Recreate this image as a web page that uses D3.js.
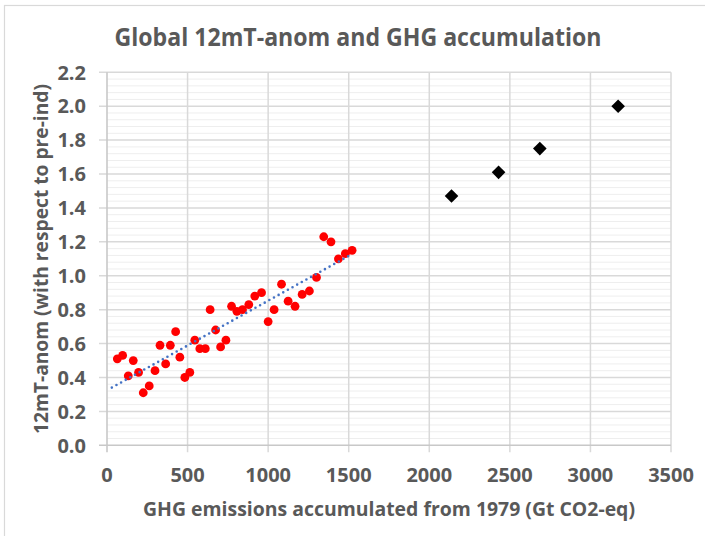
<!DOCTYPE html>
<html>
<head>
<meta charset="utf-8">
<script src="https://cdn.jsdelivr.net/npm/d3@7"></script>
<style>
  body { margin: 0; background: #fff; }
  text { font-family: "Open Sans", sans-serif; fill: #595959; }
</style>
</head>
<body>
<svg id="chart" width="705" height="536"></svg>
<script>
// observed years: accumulated GHG (Gt CO2-eq) vs 12-month T anomaly
const obsX = [64, 97, 163, 132, 196, 225, 262, 298, 329, 364, 393, 426, 452, 483, 514,
  545, 576, 610, 640, 674, 705, 738, 773, 806, 841, 880, 917, 959, 1000, 1037, 1083,
  1124, 1167, 1211, 1256, 1300, 1345, 1390, 1436, 1479, 1521];
const obsY = [0.51, 0.53, 0.50, 0.41, 0.43, 0.31, 0.35, 0.44, 0.59, 0.48, 0.59, 0.67, 0.52,
  0.40, 0.43, 0.62, 0.57, 0.57, 0.80, 0.68, 0.58, 0.62, 0.82, 0.79, 0.80, 0.83, 0.88,
  0.90, 0.73, 0.80, 0.95, 0.85, 0.82, 0.89, 0.91, 0.99, 1.23, 1.20, 1.10, 1.13, 1.15];

// projected points
const projX = [2138, 2430, 2686, 3172];
const projY = [1.47, 1.61, 1.75, 2.00];

const xTicks = [0, 500, 1000, 1500, 2000, 2500, 3000, 3500];
const yTicks = [0.0, 0.2, 0.4, 0.6, 0.8, 1.0, 1.2, 1.4, 1.6, 1.8, 2.0, 2.2];
const trendFrom = 30;

const titleText = "Global 12mT-anom and GHG accumulation";
const xTitle = "GHG emissions accumulated from 1979 (Gt CO2-eq)";
const yTitle = "12mT-anom (with respect to pre-ind)";

const plotL = 107, plotR = 671, plotT = 72.3, plotB = 445.3;
const x = d3.scaleLinear().domain([0, 3500]).range([plotL, plotR]);
const y = d3.scaleLinear().domain([0, 2.2]).range([plotB, plotT]);

const svg = d3.select('#chart');

// outer chart frame
svg.append('rect')
  .attr('x', 4.5).attr('y', 5.5).attr('width', 760).attr('height', 600)
  .attr('fill', '#fff').attr('stroke', '#d9d9d9').attr('stroke-width', 1.2);

// minor horizontal gridlines
const minor = d3.range(0, 111).map(i => i * 0.02).filter((v, i) => i % 2 === 0 && i % 10 !== 0);
svg.append('g').selectAll('line').data(minor).join('line')
  .attr('x1', plotL).attr('x2', plotR)
  .attr('y1', d => y(d)).attr('y2', d => y(d))
  .attr('stroke', '#eeeeee').attr('stroke-width', 1);

// major gridlines
svg.append('g').selectAll('line').data(yTicks.slice(1)).join('line')
  .attr('x1', plotL - 8).attr('x2', plotR)
  .attr('y1', d => y(d)).attr('y2', d => y(d))
  .attr('stroke', '#d9d9d9').attr('stroke-width', 1.5);

svg.append('g').selectAll('line').data(xTicks.slice(1)).join('line')
  .attr('x1', d => x(d)).attr('x2', d => x(d))
  .attr('y1', plotT).attr('y2', plotB + 7)
  .attr('stroke', '#d9d9d9').attr('stroke-width', 1.5);

// axis lines
svg.append('line')
  .attr('x1', plotL).attr('x2', plotL).attr('y1', plotT).attr('y2', plotB + 7)
  .attr('stroke', '#c8c8c8').attr('stroke-width', 1.6);
svg.append('line')
  .attr('x1', plotL - 8).attr('x2', plotR).attr('y1', plotB).attr('y2', plotB)
  .attr('stroke', '#c8c8c8').attr('stroke-width', 1.6);

// tick labels
svg.append('g').selectAll('text').data(yTicks).join('text')
  .attr('x', 86).attr('y', d => y(d)).attr('dy', '0.36em')
  .attr('text-anchor', 'end')
  .style('font-size', '20px').style('font-weight', 700)
  .text(d => d3.format('.1f')(d));

svg.append('g').selectAll('text').data(xTicks).join('text')
  .attr('x', d => x(d)).attr('y', 482)
  .attr('text-anchor', 'middle')
  .style('font-size', '20px').style('font-weight', 700)
  .text(d => d);

// observed points
const obs = obsX.map((v, i) => [v, obsY[i]]);
svg.append('g').selectAll('circle').data(obs).join('circle')
  .attr('cx', d => x(d[0])).attr('cy', d => y(d[1])).attr('r', 4.4)
  .attr('fill', '#ff0000');

// linear trendline
const mx = d3.mean(obsX), my = d3.mean(obsY);
const slope = d3.sum(obs, d => (d[0] - mx) * (d[1] - my)) / d3.sum(obsX, v => (v - mx) ** 2);
const icpt = my - slope * mx;
const trendEnds = [trendFrom, d3.max(obsX)];
svg.append('path')
  .datum(trendEnds)
  .attr('d', d3.line().x(d => x(d)).y(d => y(icpt + slope * d)))
  .attr('fill', 'none').attr('stroke', '#4472c4').attr('stroke-width', 2.6)
  .attr('stroke-dasharray', '0 5.3').attr('stroke-linecap', 'round');

// projected diamonds
const proj = projX.map((v, i) => [v, projY[i]]);
svg.append('g').selectAll('path').data(proj).join('path')
  .attr('transform', d => `translate(${x(d[0])},${y(d[1])})`)
  .attr('d', 'M0,-6.8L6.8,0L0,6.8L-6.8,0Z')
  .attr('fill', '#000');

// titles
svg.append('text')
  .attr('x', 358).attr('y', 46).attr('text-anchor', 'middle')
  .attr('textLength', 487).attr('lengthAdjust', 'spacingAndGlyphs')
  .style('font-size', '25px').style('font-weight', 700)
  .text(titleText);

svg.append('text')
  .attr('x', 389).attr('y', 516).attr('text-anchor', 'middle')
  .attr('textLength', 492).attr('lengthAdjust', 'spacingAndGlyphs')
  .style('font-size', '20px').style('font-weight', 700)
  .text(xTitle);

svg.append('text')
  .attr('transform', 'translate(48,259) rotate(-90)').attr('text-anchor', 'middle')
  .attr('textLength', 350).attr('lengthAdjust', 'spacingAndGlyphs')
  .style('font-size', '20px').style('font-weight', 700)
  .text(yTitle);
</script>
</body>
</html>
